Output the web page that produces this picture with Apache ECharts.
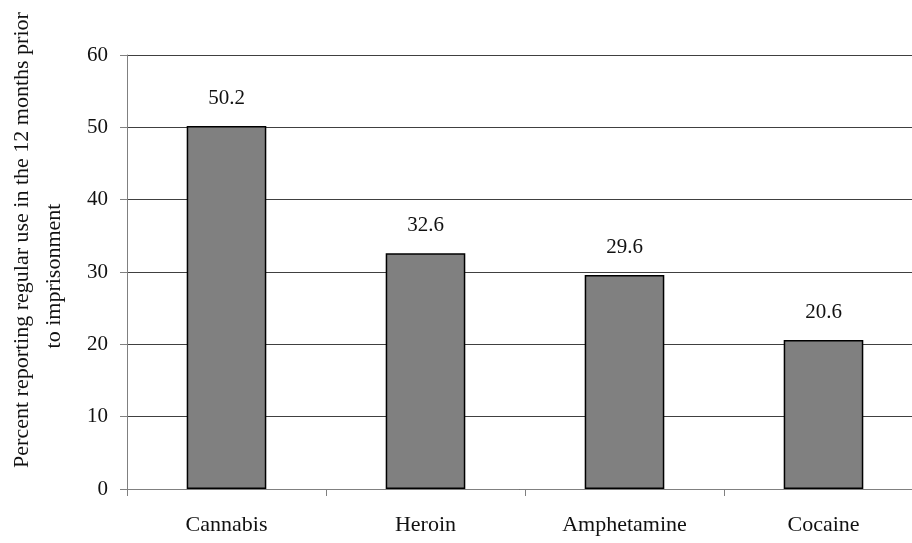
<!DOCTYPE html>
<html><head><meta charset="utf-8">
<script src="https://cdn.jsdelivr.net/npm/echarts@6/dist/echarts.min.js"></script>
<style>html,body{margin:0;padding:0;background:#fff}#c{width:912px;height:543px}</style>
</head><body><div id="c"></div>
<script>
const categories = ['Cannabis', 'Heroin', 'Amphetamine', 'Cocaine'];
const values = [50.2, 32.6, 29.6, 20.6];
const yTicks = { min: 0, max: 60, interval: 10 };
const yNameLines = ['Percent reporting regular use in the 12 months prior', 'to imprisonment'];

const font = '"Liberation Serif", "DejaVu Serif", serif';
const chart = echarts.init(document.getElementById('c'), null, { renderer: 'canvas' });
chart.setOption({
  animation: false,
  backgroundColor: '#fff',
  grid: { left: 127, right: -11, top: 55, bottom: 54, containLabel: false, outerBoundsMode: 'none' },
  xAxis: {
    type: 'category', data: categories,
    axisLine: { lineStyle: { color: '#808080', width: 1 } },
    axisTick: { show: true, alignWithLabel: false, length: 7, lineStyle: { color: '#808080' } },
    axisLabel: { color: '#111', fontFamily: font, fontSize: 22, margin: 25 },
    splitLine: { show: false }
  },
  yAxis: {
    type: 'value', min: yTicks.min, max: yTicks.max, interval: yTicks.interval,
    name: '{a|' + yNameLines[0] + '}\n{b|' + yNameLines[1] + '}',
    nameLocation: 'middle', nameRotate: 90, nameGap: 57,
    nameTextStyle: {
      color: '#111', fontFamily: font, fontSize: 22, lineHeight: 32,
      rich: {
        a: { color: '#111', fontFamily: font, fontSize: 22, lineHeight: 32, padding: [0, 0, 0, 64] },
        b: { color: '#111', fontFamily: font, fontSize: 22, lineHeight: 32, padding: [0, 8, 0, 0] }
      }
    },
    axisLine: { show: true, lineStyle: { color: '#808080', width: 1 } },
    axisTick: { show: true, length: 7, lineStyle: { color: '#808080' } },
    axisLabel: { color: '#111', fontFamily: font, fontSize: 21, margin: 19 },
    splitLine: { show: true, lineStyle: { color: '#404040', width: 1 } }
  },
  series: [{
    type: 'bar', data: values, barWidth: '40%',
    itemStyle: { color: '#808080', borderColor: '#000', borderWidth: 1.5 },
    label: { show: true, position: 'top', distance: 17, color: '#111', fontFamily: font, fontSize: 21,
      formatter: p => p.value.toFixed(1) }
  }]
});
</script></body></html>
